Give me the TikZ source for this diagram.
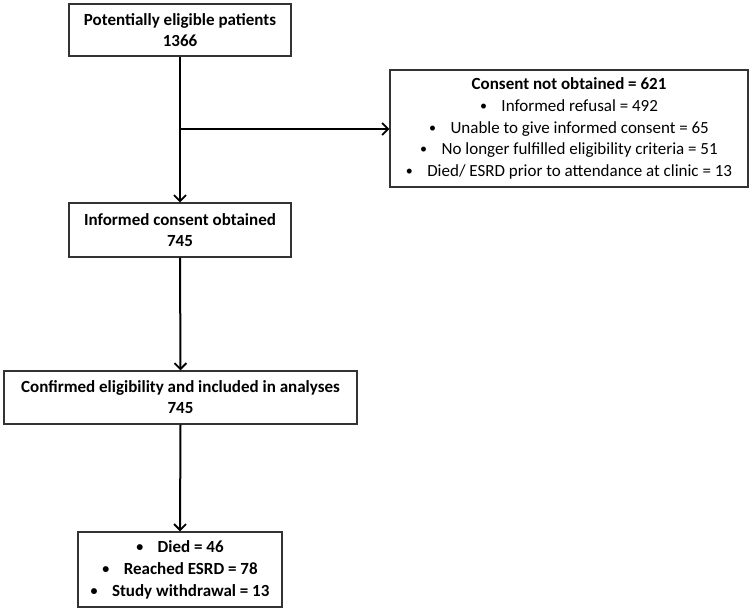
\documentclass[tikz,border=0pt]{standalone}
\usepackage{fontspec}
\setmainfont{Carlito}
\usetikzlibrary{arrows.meta}
\newcommand{\bul}{\raisebox{0.8pt}{\fontsize{14}{14}\selectfont•}\hspace{0.85em}}
\begin{document}
\begin{tikzpicture}[x=1pt,y=-1pt,
  box/.style={draw=black!80, line width=1.4pt, align=center, inner sep=0pt,
    font=\fontsize{17}{21}\selectfont},
  bbox/.style={box, font=\fontsize{17}{21}\selectfont\bfseries},
  conn/.style={line width=2pt, -{Straight Barb[length=6pt,width=12pt,line width=1.8pt]}}]
\useasboundingbox (0,0) rectangle (754,611);
\node[bbox, minimum width=222pt, minimum height=52pt] (b1) at (180,30) {Potentially eligible patients\\1366};
\node[bbox, minimum width=222pt, minimum height=54pt] (b2) at (180,230) {Informed consent obtained\\745};
\node[bbox, minimum width=353pt, minimum height=53pt] (b3) at (180.5,397.5) {Confirmed eligibility and included in analyses\\745};
\node[bbox, minimum width=204pt, minimum height=75pt, font=\fontsize{17}{22}\selectfont\bfseries] (b4) at (180,569.5) {\bul Died = 46\\\bul Reached ESRD = 78\\\bul Study withdrawal = 13};
\node[box, minimum width=358pt, minimum height=117pt, font=\fontsize{17}{21.7}\selectfont] (r) at (569,128.5) {\textbf{Consent not obtained = 621}\\\bul Informed refusal = 492\\\bul Unable to give informed consent = 65\\\bul No longer fulfilled eligibility criteria = 51\\\bul Died/ ESRD prior to attendance at clinic = 13};
\coordinate (br) at (180,129);
\draw[conn] (b1.south) -- (b2.north);
\draw[conn] (br) -- (r.west |- br);
\draw[conn] (b2.south) -- (b3.north);
\draw[conn] (b3.south) -- (b4.north);
\end{tikzpicture}
\end{document}
